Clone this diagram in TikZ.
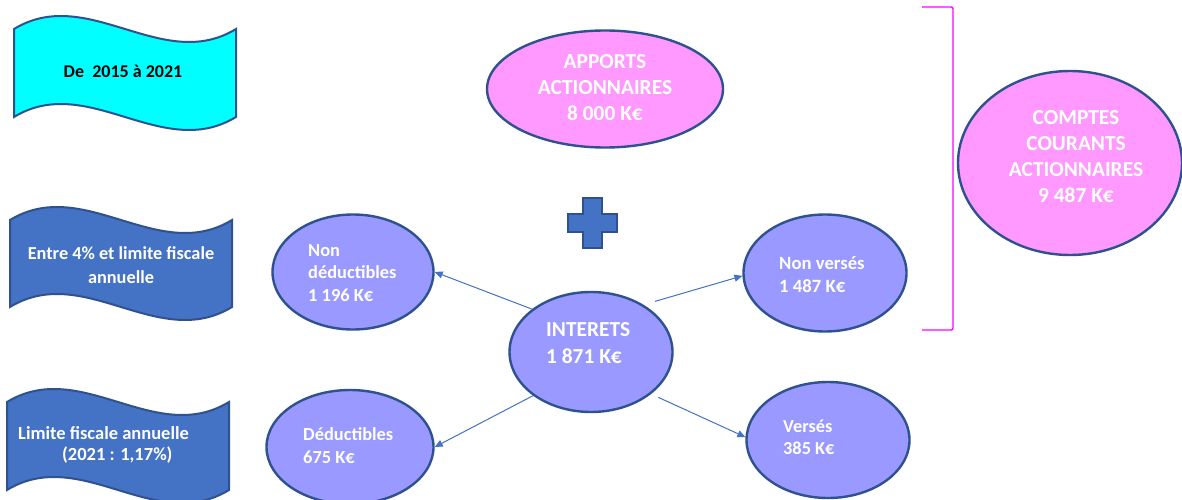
\documentclass[tikz,border=0pt]{standalone}
\usepackage{fontspec}
\setmainfont{Carlito}
\usetikzlibrary{arrows.meta,shapes.geometric,calc}
\definecolor{bord}{HTML}{2F528F}
\definecolor{bblue}{HTML}{4472C4}
\definecolor{cyanf}{HTML}{00FFFF}
\definecolor{pinkf}{HTML}{FF99FF}
\definecolor{lavf}{HTML}{9999FF}
\definecolor{magb}{HTML}{FF00FF}
\newcommand\mywave[5]{%
  \draw[#1] (#2,#4) .. controls ({#2+(#3-#2)/3},{#4-45}) and ({#2+2*(#3-#2)/3},{#4+45}) .. (#3,#4)
    -- (#3,#5) .. controls ({#2+2*(#3-#2)/3},{#5+45}) and ({#2+(#3-#2)/3},{#5-45}) .. (#2,#5) -- cycle;}
\begin{document}
\begin{tikzpicture}[x=1pt,y=-1pt,
  bubble/.style={ellipse, draw=bord, line width=2.4pt, inner sep=0pt},
  pinkb/.style={bubble, fill=pinkf},
  lavb/.style={bubble, fill=lavf},
  wtxt/.style={text=white, inner sep=0pt, font=\bfseries},
  btxt/.style={text=black, inner sep=0pt, font=\bfseries},
  arr/.style={draw=bblue, line width=1pt, -{Triangle[length=8pt,width=7pt]}},
  brk/.style={draw=magb, line width=1.4pt, rounded corners=2pt},
  flagc/.style={draw=bord, fill=cyanf, line width=2pt},
  flagb/.style={draw=bord, fill=bblue, line width=2pt},
  plusst/.style={draw=bord, fill=bblue, line width=1.6pt}]
\useasboundingbox (0,0) rectangle (1182,500);
\fill[white] (0,0) rectangle (1182,500);

% banners
\mywave{flagc}{14}{236}{29}{117}
\mywave{flagb}{10}{232}{220}{307}
\mywave{flagb}{7}{229}{402}{490}
\node[btxt, anchor=base, font=\bfseries\fontsize{18}{20}\selectfont] (b1t) at (123,78) {De\ \ 2015 à 2021};
\node[wtxt, anchor=north, align=center, font=\bfseries\fontsize{18.3}{24}\selectfont] (b2t) at (121,246) {Entre 4\% et limite fiscale\\annuelle};
\node[wtxt, anchor=north west, align=left, font=\bfseries\fontsize{18.5}{21.5}\selectfont] (b3t) at (18,426) {Limite fiscale annuelle\\\hspace*{44pt}(2021 : 1,17\%)};

% ellipses
\node[pinkb, minimum width=236pt, minimum height=117pt] (app) at (605,89) {};
\node[wtxt, anchor=north, align=center, font=\bfseries\fontsize{21.4}{26}\selectfont] (appt) at (605,54) {APPORTS\\ACTIONNAIRES\\8 000 K€};
\node[pinkb, minimum width=224pt, minimum height=184pt] (cca) at (1070,163) {};
\node[wtxt, anchor=north, align=center, font=\bfseries\fontsize{21.4}{26}\selectfont] (ccat) at (1076,110) {COMPTES\\COURANTS\\ACTIONNAIRES\\9 487 K€};

\node[lavb, minimum width=161pt, minimum height=115pt] (nd) at (353,272) {};
\node[wtxt, anchor=north west, align=left, font=\bfseries\fontsize{18.4}{22.5}\selectfont] (ndt) at (308,244) {Non\\déductibles\\1 196 K€};
\node[lavb, minimum width=163pt, minimum height=120pt] (int) at (591,352) {};
\node[wtxt, anchor=north west, align=left, font=\bfseries\fontsize{21.4}{27}\selectfont] (intt) at (546,322) {INTERETS\\1 871 K€};
\node[lavb, minimum width=167pt, minimum height=114pt] (ded) at (350,447) {};
\node[wtxt, anchor=north west, align=left, font=\bfseries\fontsize{18.4}{23}\selectfont] (dedt) at (303,427) {Déductibles\\675 K€};
\node[lavb, minimum width=163pt, minimum height=117pt] (nv) at (825,273) {};
\node[wtxt, anchor=north west, align=left, font=\bfseries\fontsize{18.7}{23}\selectfont] (nvt) at (779,256) {Non versés\\1 487 K€};
\node[lavb, minimum width=163pt, minimum height=116pt] (vs) at (828,440) {};
\node[wtxt, anchor=north west, align=left, font=\bfseries\fontsize{18.3}{22}\selectfont] (vst) at (783,420) {Versés\\385 K€};

% plus sign
\draw[plusst] (583,198) -- (602,198) -- (602,214) -- (617,214) -- (617,232) -- (602,232) -- (602,248) -- (583,248) -- (583,232) -- (568,232) -- (568,214) -- (583,214) -- cycle;

% bracket
\draw[brk] (922,7) -- (953,7) -- (953,330) -- (922,330);

% arrows
\draw[arr] (int.144) -- (nd.east);
\draw[arr] (int.217) -- (ded.east);
\draw[arr, shorten <=12pt] (int.42) -- (nv.182);
\draw[arr, shorten <=8pt] (int.-35) -- (vs.178);
\end{tikzpicture}
\end{document}
